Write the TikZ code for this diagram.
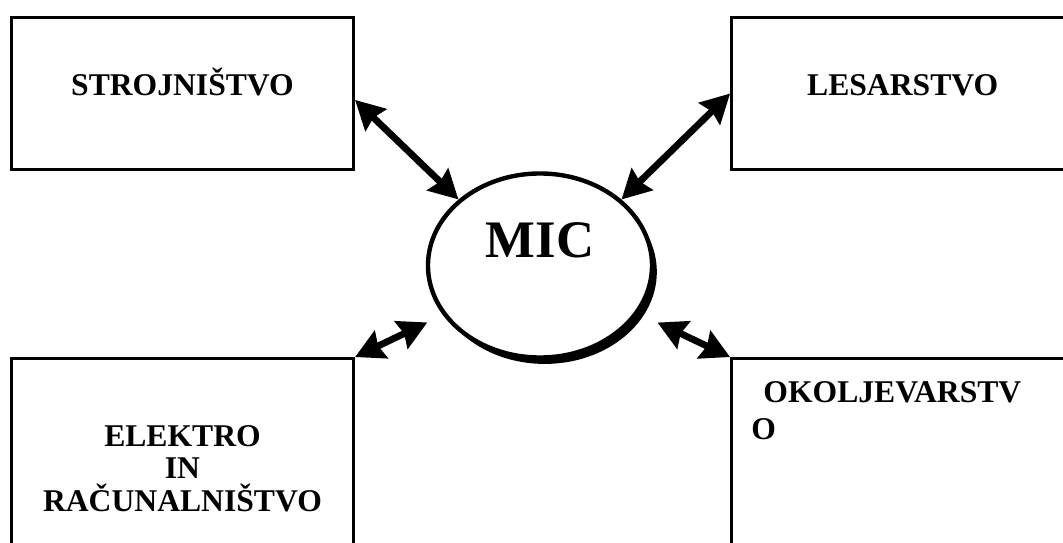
\documentclass[tikz,border=0pt]{standalone}
\usepackage{fontspec}
\setmainfont{Liberation Serif}
\usetikzlibrary{arrows.meta,positioning,shadows,shapes.geometric}

\begin{document}
\begin{tikzpicture}[
    x=0.025cm, y=-0.025cm,
    font=\bfseries\fontsize{22.5}{23.1}\selectfont,
    box/.style={rectangle, draw, line width=0.075cm, minimum width=8.55cm, inner sep=0pt},
    topbox/.style={box, minimum height=3.8cm, text height=0.5cm, text depth=0.375cm},
    lowbox/.style={box, minimum height=5.5cm, align=center},
    arrow/.style={<->, >={Stealth[length=0.72cm, width=0.75cm, inset=0.08cm]}, line width=0.17cm}
]
    \clip (0,0) rectangle (1063,543);

    % Departments
    \node[topbox] (stroj) at (182.5,93.5) {STROJNIŠTVO};
    \node[topbox, right=9.375cm of stroj] (les) {LESARSTVO};
    \node[lowbox, below=4.65cm of stroj] (ele) {ELEKTRO\\IN\\RAČUNALNIŠTVO};
    \node[lowbox, below=4.65cm of les] (oko) {};
    \node[anchor=north west, align=left, inner sep=0pt, font=\bfseries\fontsize{22.5}{26.3}\selectfont]
        (okotxt) at ([xshift=0.525cm, yshift=-0.61cm]oko.north west) {\hspace*{0.3cm}OKOLJEVARSTV\\O};

    % MIC
    \node[ellipse, draw, line width=0.11cm, fill=white, minimum width=5.6cm, minimum height=4.6cm, inner sep=0pt,
        drop shadow={shadow xshift=0.12cm, shadow yshift=-0.16cm, fill=black, opacity=1}] (mic) at (540,265.5) {};
    \node[inner sep=0pt, font=\bfseries\fontsize{37.5}{40}\selectfont] (mictxt) at ([yshift=0.64cm]mic.center) {MIC};

    % Arrows
    \draw[arrow] ([yshift=-0.16cm]stroj.east) -- (mic.141);
    \draw[arrow] (les.west) -- (mic.39);
    \draw[arrow, shorten >=0.43cm] (ele.north east) -- (mic.207);
    \draw[arrow, shorten >=0.53cm] (oko.north west) -- (mic.334);
\end{tikzpicture}
\end{document}
